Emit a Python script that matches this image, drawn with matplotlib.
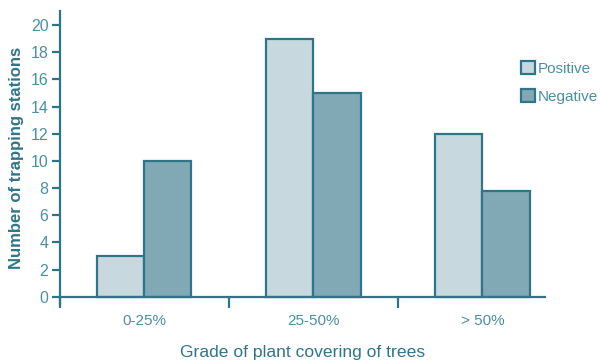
import matplotlib
matplotlib.use("Agg")
import matplotlib.pyplot as plt
from matplotlib.patches import Patch
import numpy as np

plt.rcParams['font.family'] = ['Liberation Sans', 'DejaVu Sans']

categories = ["0-25%", "25-50%", "> 50%"]
positive = [3, 19, 12]
negative = [10, 15, 7.8]
series_names = ["Positive", "Negative"]
y_ticks = [0, 2, 4, 6, 8, 10, 12, 14, 16, 18, 20]

axis_col = "#2f7588"
text_col = "#4a8fa2"
pos_col = "#c7d9de"
neg_col = "#80a8b5"

fig = plt.figure(figsize=(6.0, 3.63), dpi=100)
ax = fig.add_axes([0.0992, 0.160, 0.809, 0.8086])

x = np.arange(len(categories))
w = 0.28
ax.bar(x - w / 2, positive, width=w, color=pos_col, edgecolor=axis_col, linewidth=1.6)
ax.bar(x + w / 2, negative, width=w, color=neg_col, edgecolor=axis_col, linewidth=1.6)

ax.set_xlim(-0.5, 2.37)
ax.set_ylim(-0.6, 21)

for s in ("top", "right"):
    ax.spines[s].set_visible(False)
ax.spines["bottom"].set_position(("data", 0))
for s in ("bottom", "left"):
    ax.spines[s].set_color(axis_col)
    ax.spines[s].set_linewidth(1.6)

ax.set_yticks(y_ticks)
ax.set_yticklabels([str(v) for v in y_ticks])
ax.tick_params(axis="y", direction="out", length=6, width=1.6, color=axis_col,
               labelcolor=text_col, labelsize=11.5, pad=2)

# category boundary ticks, with labels centered on the groups
ax.set_xticks([-0.5, 0.5, 1.5])
ax.set_xticklabels([])
ax.tick_params(axis="x", direction="out", length=8, width=1.6, color=axis_col)
for xi, lab in zip(x, categories):
    ax.text(xi, -1.3, lab, ha="center", va="top", color=text_col, fontsize=11)

fig.text(303 / 600, 1 - 352 / 363, "Grade of plant covering of trees", ha="center",
         va="center", color=axis_col, fontsize=12.6)

fig.text(17 / 600, 1 - 158 / 363, "Number of trapping stations", rotation=90,
         ha="center", va="center", color=axis_col, fontsize=12, fontweight="bold")

handles = [Patch(facecolor=pos_col, edgecolor=axis_col, linewidth=1.6),
           Patch(facecolor=neg_col, edgecolor=axis_col, linewidth=1.6)]
leg = fig.legend(handles, series_names, loc="upper left",
                 bbox_to_anchor=(515 / 600, 1 - 55 / 363), frameon=False,
                 handlelength=0.9, handleheight=0.9, handletextpad=0.2,
                 labelspacing=0.9, fontsize=11, borderaxespad=0)
for t in leg.get_texts():
    t.set_color(text_col)

fig.savefig("out.png", dpi=100)
